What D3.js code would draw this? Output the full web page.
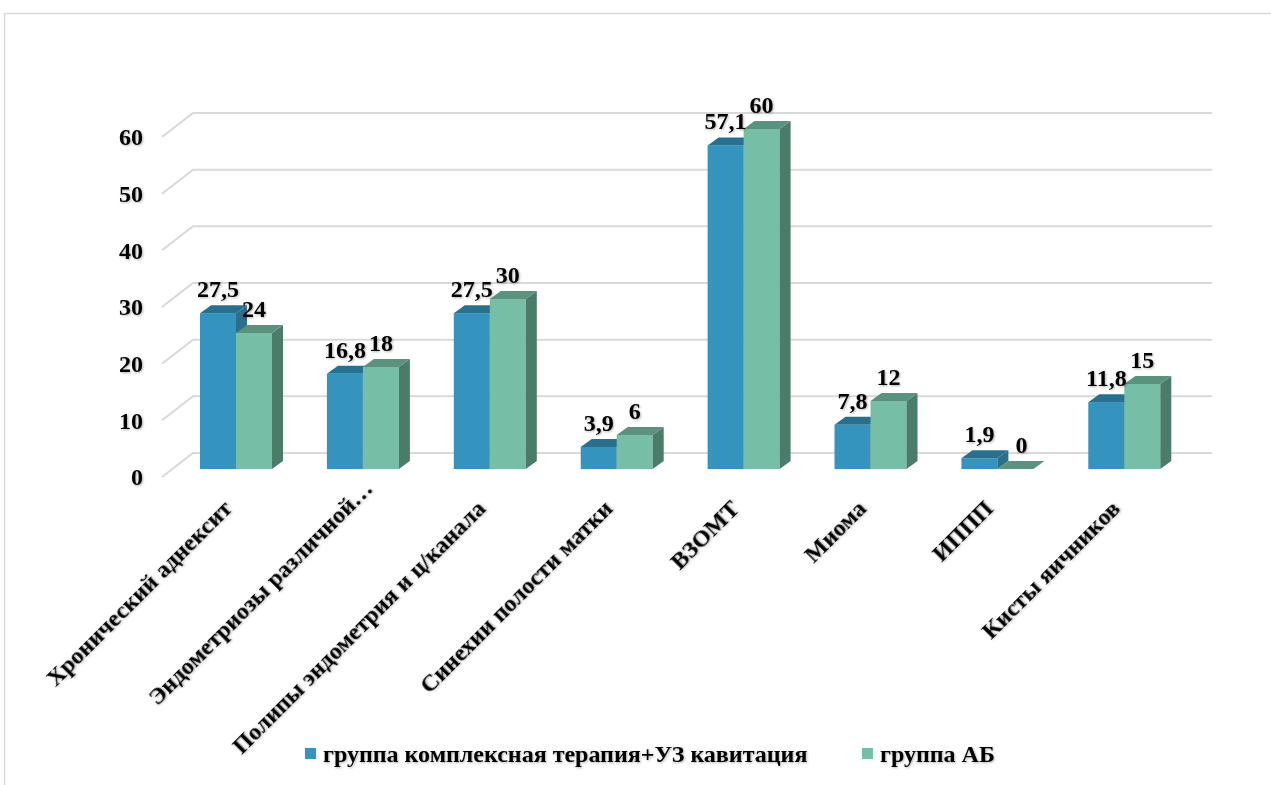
<!DOCTYPE html>
<html><head><meta charset="utf-8">
<script src="https://cdn.jsdelivr.net/npm/d3@7"></script>
<style>
html,body{margin:0;padding:0;background:#fff;}
text{font-family:"Liberation Serif","Times New Roman",serif;font-weight:bold;fill:#000;}
</style></head>
<body><svg id="c" width="1271" height="785"></svg>
<script>
const categories = ["Хронический аднексит","Эндометриозы различной…","Полипы эндометрия и ц/канала","Синехии полости матки","ВЗОМТ","Миома","ИППП","Кисты яичников"];
const seriesNames = ["группа комплексная терапия+УЗ кавитация","группа АБ"];
const seriesA = [27.5,16.8,27.5,3.9,57.1,7.8,1.9,11.8];
const seriesB = [24,18,30,6,60,12,0,15];
const yTicks = [0,10,20,30,40,50,60];
const colors = [
  {front:"#3594BE", top:"#296F8E", side:"#2A6F8D"},
  {front:"#76BEA6", top:"#5A927E", side:"#4B7C69"}
];

const svg = d3.select("#c");
const fmt = v => String(v).replace(".", ",");

// frame
svg.append("rect").attr("x",4.5).attr("y",13.5).attr("width",1300).attr("height",800)
  .attr("fill","none").attr("stroke","#d9d9d9").attr("stroke-width",1.5);

const defs = svg.append("defs");
const f = defs.append("filter").attr("id","sh").attr("x","-10%").attr("y","-10%").attr("width","130%").attr("height","130%");
f.append("feDropShadow").attr("dx",1).attr("dy",1).attr("stdDeviation",0.8).attr("flood-color","#000").attr("flood-opacity",0.3);

const y = d3.scaleLinear().domain([0,60]).range([469,129]);
const x0 = d3.scaleBand().domain(categories).range([172.55,1187.75]).padding(0);
const x1 = d3.scaleBand().domain([0,1]).range([-36,36]).padding(0);

const DX = 11, DY = 8;          // bar depth
const BFX = 31;                 // floor depth (front -> back)
const backX0 = 193, backX1 = 1212;

// gridlines
const g = svg.append("g");
yTicks.forEach(t => {
  const yb = y(t) - 16, yf = y(t) + 8;
  g.append("path").attr("d", `M${backX0 - BFX},${yf} L${backX0},${yb} L${backX1},${yb}`)
    .attr("fill","none").attr("stroke","#d9d9d9").attr("stroke-width",2);
  g.append("text").attr("x",143).attr("y",yf).attr("dy","0.35em").attr("text-anchor","end")
    .attr("font-size",24).attr("filter","url(#sh)").text(t);
});

// bars
const data = categories.map((c,i)=>({c, vals:[seriesA[i], seriesB[i]]}));
const bars = svg.append("g");
data.forEach(d => {
  const cx = x0(d.c) + x0.bandwidth()/2;
  d.vals.forEach((v,s) => {
    const xl = cx + x1(s), w = x1.bandwidth();
    const yt = y(v), yb = y(0);
    const col = colors[s];
    const gg = bars.append("g");
    if (v > 0) {
      gg.append("rect").attr("x",xl).attr("y",yt).attr("width",w).attr("height",yb-yt).attr("fill",col.front);
      gg.append("path").attr("d",`M${xl+w},${yt} L${xl+w+DX},${yt-DY} L${xl+w+DX},${yb-DY} L${xl+w},${yb} Z`).attr("fill",col.side);
    }
    gg.append("path").attr("d",`M${xl},${yt} L${xl+DX},${yt-DY} L${xl+w+DX},${yt-DY} L${xl+w},${yt} Z`).attr("fill",col.top);
  });
});

// value labels
const labels = svg.append("g");
data.forEach(d => {
  const cx = x0(d.c) + x0.bandwidth()/2;
  d.vals.forEach((v,s) => {
    const xc = cx + x1(s) + x1.bandwidth()/2 + (v===0 ? 6 : 0);
    labels.append("text").attr("x",xc).attr("y",y(v)-DY-8).attr("text-anchor","middle")
      .attr("font-size",24).attr("filter","url(#sh)").text(fmt(v));
  });
});

// category labels
const cl = svg.append("g");
categories.forEach(c => {
  const cx = x0(c) + x0.bandwidth()/2;
  const trunc = c.endsWith("…");
  const ax = cx - 3 + (trunc ? 14 : 0), ay = 510 - (trunc ? 20 : 0);
  cl.append("text").attr("transform",`translate(${ax},${ay}) rotate(-45)`)
    .attr("text-anchor","end").attr("font-size",24).attr("filter","url(#sh)").text(c);
});

// legend
const leg = svg.append("g");
const legX = [305, 862];
seriesNames.forEach((n,i) => {
  leg.append("rect").attr("x",legX[i]).attr("y",748).attr("width",11).attr("height",11).attr("fill",colors[i].front);
  leg.append("text").attr("x",legX[i]+18).attr("y",762).attr("font-size",24).attr("filter","url(#sh)").text(n);
});
</script></body></html>
